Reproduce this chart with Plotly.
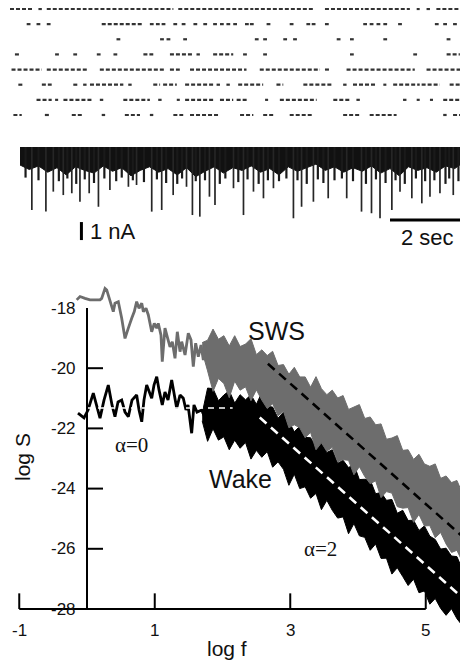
import plotly.graph_objects as go

# ---------------- raster (spike clusters, seconds) ----------------
raster_row1 = [(0.0, 0.62), (0.75, 0.84), (0.97, 2.02), (2.07, 4.31), (4.44, 6.42), (6.46, 8.04),
               (8.31, 9.32), (9.36, 10.55), (10.73, 10.81), (10.99, 11.08), (11.25, 12.0)]
raster_row2 = [(0.44, 0.54), (0.70, 0.80), (0.97, 1.07), (2.42, 3.52), (3.69, 3.79), (3.85, 3.95),
               (4.0, 4.1), (4.31, 4.41), (4.53, 4.63), (4.84, 4.94), (5.10, 5.20), (5.36, 5.46),
               (5.54, 5.64), (5.71, 5.81), (5.89, 5.99), (6.20, 6.30), (6.33, 6.43), (6.77, 6.87),
               (7.38, 7.48), (7.82, 7.92), (7.96, 8.06), (8.31, 8.41), (9.32, 9.42), (9.49, 9.59),
               (9.67, 9.77), (9.85, 9.95), (10.24, 10.34), (11.21, 11.31), (11.43, 11.53), (11.69, 11.79)]
raster_row3 = [(2.81, 2.91), (3.96, 4.06), (4.13, 4.23), (4.57, 4.67), (6.46, 6.56), (6.68, 6.78),
               (7.21, 7.31), (7.47, 7.57), (8.62, 8.72), (8.97, 9.07), (9.85, 9.95), (11.52, 11.62)]
raster_row4 = [(0.13, 0.26), (1.19, 1.29), (1.67, 1.77), (2.29, 2.39), (2.73, 2.83), (3.52, 3.78),
               (4.22, 4.84), (4.92, 5.01), (5.36, 5.89), (6.15, 6.25), (6.68, 6.78), (8.97, 9.07),
               (10.64, 10.74), (11.52, 11.87)]
raster_row5 = [(0.04, 0.84), (0.97, 2.07), (2.37, 4.09), (4.22, 4.48), (4.75, 6.24), (6.59, 8.18),
               (8.31, 8.44), (8.88, 10.68), (10.99, 12.0)]
raster_row6 = [(0.22, 0.35), (0.84, 1.10), (1.67, 1.80), (1.93, 2.02), (2.11, 2.99), (3.12, 3.21),
               (3.78, 3.96), (4.04, 4.40), (4.62, 5.36), (5.45, 5.54), (5.71, 5.80), (6.02, 6.68),
               (7.03, 7.21), (7.74, 8.53), (8.79, 8.88), (9.05, 9.67), (9.85, 9.93), (10.11, 10.81),
               (10.86, 11.34), (11.60, 12.0)]
raster_row7 = [(0.70, 1.10), (1.19, 1.27), (1.41, 2.20), (2.37, 2.46), (2.99, 3.69), (3.91, 4.0),
               (4.40, 4.48), (4.62, 5.36), (5.54, 5.89), (5.98, 6.29), (6.73, 6.81), (7.12, 8.09),
               (8.53, 8.97), (9.14, 9.23), (10.37, 10.46), (10.73, 10.81), (11.08, 11.16), (11.43, 12.0)]
raster_row8 = [(0.09, 0.31), (0.92, 1.05), (1.63, 1.93), (2.42, 2.51), (3.03, 3.43), (3.69, 3.78),
               (4.31, 4.57), (4.75, 5.54), (6.07, 6.42), (6.68, 6.95), (7.38, 8.0), (8.79, 9.23),
               (9.49, 10.20), (11.43, 11.52), (11.69, 12.0)]
raster_rows = [raster_row1, raster_row2, raster_row3, raster_row4,
               raster_row5, raster_row6, raster_row7, raster_row8]

# ---------------- membrane current trace (s, nA) ----------------
band_t = [0.0, 0.25, 0.5, 0.75, 1.0, 1.25, 1.5, 1.75, 2.0, 2.25, 2.5, 2.75, 3.0, 3.25, 3.5, 3.75,
          4.0, 4.25, 4.5, 4.75, 5.0, 5.25, 5.5, 5.75, 6.0, 6.25, 6.5, 6.75, 7.0, 7.25, 7.5, 7.75,
          8.0, 8.25, 8.5, 8.75, 9.0, 9.25, 9.5, 9.75, 10.0, 10.25, 10.5, 10.75, 11.0, 11.25, 11.5,
          11.75, 11.95]
band_i = [-1.0, -1.25, -1.05, -1.4, -1.15, -1.55, -1.1, -1.3, -1.45, -1.05, -1.35, -1.15, -1.6,
          -1.3, -1.1, -1.4, -1.2, -1.55, -1.15, -1.65, -1.35, -1.1, -1.45, -1.15, -1.3, -1.05,
          -1.4, -1.2, -1.55, -1.1, -1.35, -1.15, -0.95, -1.3, -1.1, -1.4, -1.15, -1.35, -1.05,
          -1.45, -1.2, -1.6, -1.1, -1.3, -1.15, -1.4, -1.05, -1.2, -0.9]
mid_t = [0.15, 0.5, 1.05, 1.28, 1.52, 1.75, 2.0, 2.28, 2.6, 2.75, 3.05, 3.35, 3.7, 3.95, 4.25,
         4.38, 4.75, 5.0, 5.4, 5.55, 5.9, 6.15, 6.45, 6.7, 7.0, 7.2, 7.5, 7.75, 8.05, 8.2, 8.5,
         8.7, 9.0, 9.35, 9.62, 9.88, 10.15, 10.4, 10.7, 10.95, 11.2, 11.5, 11.6, 11.85]
mid_i = [-1.7, -1.85, -1.9, -1.75, -2.05, -1.8, -2.0, -1.75, -1.9, -1.7, -1.85, -1.95, -1.8, -2.0,
         -2.05, -1.75, -1.9, -1.85, -2.05, -1.75, -1.95, -1.8, -2.05, -1.85, -1.9, -1.75, -1.85,
         -2.05, -1.8, -2.0, -1.85, -1.75, -1.9, -2.05, -1.8, -2.0, -1.85, -2.05, -1.75, -1.9,
         -1.85, -2.05, -1.75, -1.9]
big_t = [0.32, 0.70, 0.90, 1.17, 1.40, 1.62, 1.87, 2.12, 2.43, 2.93, 3.15, 3.56, 3.83, 4.14, 4.50,
         4.66, 4.86, 5.12, 5.27, 5.77, 6.04, 6.31, 6.58, 6.85, 7.39, 7.61, 7.93, 8.33, 8.83, 9.23,
         9.50, 9.73, 10.05, 10.27, 10.59, 10.86, 11.08, 11.35, 11.71, 11.94]
big_i = [-3.50, -3.59, -2.48, -2.67, -2.57, -3.04, -2.57, -3.32, -2.39, -2.21, -2.11, -3.59, -3.50,
         -2.67, -2.21, -3.78, -3.87, -2.76, -3.22, -2.29, -3.78, -2.48, -2.85, -2.29, -3.96, -3.32,
         -3.04, -2.85, -2.85, -3.59, -3.68, -3.96, -3.50, -2.48, -2.85, -3.13, -2.76, -2.57, -2.67,
         -2.11]
scale_current = 1.0   # nA
scale_time = 2.0      # s

# ---------------- power spectra (log f, log S) ----------------
sws_lf_f = [-0.152, -0.103, -0.030, 0.044, 0.118, 0.192, 0.217, 0.266, 0.291, 0.314, 0.365, 0.388,
            0.413, 0.462, 0.512, 0.561, 0.610, 0.635, 0.660, 0.698, 0.733, 0.768, 0.808, 0.832,
            0.871, 0.905, 0.955, 0.993, 1.029, 1.052, 1.092, 1.111, 1.151, 1.191, 1.225, 1.259,
            1.299, 1.333, 1.373, 1.398, 1.447, 1.495, 1.535, 1.569, 1.604, 1.643, 1.683, 1.717, 1.742]
sws_lf_s = [-17.73, -17.62, -17.68, -17.73, -17.73, -17.73, -17.68, -17.35, -17.40, -17.57, -17.90,
            -18.12, -17.84, -17.79, -18.34, -19.01, -18.67, -18.46, -18.34, -18.12, -17.79, -18.01,
            -17.84, -18.12, -18.01, -18.23, -18.79, -18.51, -18.67, -18.51, -18.90, -19.78, -18.67,
            -19.01, -19.29, -19.12, -19.67, -18.79, -19.45, -19.12, -19.56, -18.84, -19.06, -19.95,
            -19.17, -19.62, -19.23, -19.73, -19.23]
wake_lf_f = [-0.133, -0.044, 0.015, 0.093, 0.192, 0.251, 0.314, 0.369, 0.413, 0.458, 0.512, 0.561,
             0.610, 0.664, 0.733, 0.768, 0.808, 0.841, 0.881, 0.915, 0.955, 0.989, 1.029, 1.063,
             1.111, 1.151, 1.196, 1.250, 1.284, 1.324, 1.373, 1.421, 1.461, 1.491, 1.545, 1.579,
             1.624, 1.693, 1.742]
wake_lf_s = [-21.49, -21.65, -21.39, -20.83, -21.66, -21.06, -20.56, -21.22, -21.61, -21.12, -21.06,
             -21.46, -21.61, -21.06, -20.89, -21.39, -21.78, -21.06, -20.56, -20.79, -21.00, -20.56,
             -20.28, -20.72, -21.22, -20.79, -21.06, -20.39, -20.89, -21.33, -20.89, -21.00, -21.39,
             -21.22, -22.16, -21.22, -21.46, -21.39, -21.65]

band_f = [1.70, 1.78, 1.86, 1.94, 2.02, 2.10, 2.18, 2.26, 2.34, 2.42, 2.50, 2.58, 2.66, 2.74, 2.82,
          2.90, 2.98, 3.06, 3.14, 3.22, 3.30, 3.38, 3.46, 3.54, 3.62, 3.70, 3.78, 3.86, 3.94, 4.02,
          4.10, 4.18, 4.26, 4.34, 4.42, 4.50, 4.58, 4.66, 4.74, 4.82, 4.90, 4.98, 5.06, 5.14, 5.22,
          5.30, 5.38, 5.46, 5.54, 5.62, 5.70]
sws_hi = [-19.15, -19.07, -18.70, -19.04, -18.92, -19.26, -18.92, -19.28, -19.20, -19.02,
          -19.55, -19.39, -19.58, -19.44, -19.91, -19.88, -20.20, -19.97, -20.29, -20.29,
          -20.63, -20.28, -20.68, -20.88, -20.73, -20.99, -20.91, -21.37, -21.29, -21.21,
          -21.67, -21.62, -21.88, -21.85, -22.36, -22.32, -22.24, -22.73, -22.71, -23.03,
          -22.86, -23.18, -23.26, -23.18, -23.66, -23.58, -23.80, -23.73, -24.15, -24.12, -24.30]
sws_lo = [-19.45, -20.09, -20.77, -20.34, -20.51, -20.98, -20.43, -20.73, -20.62, -21.08,
          -20.72, -21.06, -21.34, -21.18, -21.58, -21.43, -21.98, -21.88, -21.98, -22.31,
          -22.13, -22.71, -22.48, -22.76, -22.63, -23.11, -23.04, -23.06, -23.54, -23.27,
          -23.60, -23.84, -23.74, -24.30, -24.10, -24.15, -24.60, -24.65, -24.63, -25.12,
          -24.86, -25.24, -25.23, -25.63, -25.46, -25.84, -26.12, -26.05, -26.43, -26.46, -26.74]
wake_hi = [-21.50, -20.66, -20.68, -21.08, -20.89, -20.75, -21.16, -20.88, -21.05, -20.88,
           -21.20, -20.81, -21.27, -21.29, -21.66, -21.46, -21.78, -22.11, -21.93, -22.30,
           -22.31, -22.62, -22.44, -22.80, -22.71, -23.16, -23.06, -23.30, -23.20, -23.70,
           -23.69, -23.71, -24.17, -24.13, -24.39, -24.36, -24.82, -24.72, -25.06, -25.05,
           -25.39, -25.24, -25.58, -25.69, -26.01, -25.98, -26.24, -26.26, -26.68, -26.74, -26.91]
wake_lo = [-21.75, -22.43, -22.01, -22.39, -22.28, -22.71, -22.39, -22.66, -22.47, -23.02,
           -22.73, -22.96, -22.77, -23.29, -23.11, -23.36, -23.89, -23.52, -24.00, -23.94,
           -24.32, -24.16, -24.70, -24.39, -24.72, -24.98, -24.94, -25.50, -25.16, -25.57,
           -25.62, -26.05, -25.84, -26.32, -26.31, -26.84, -26.63, -26.92, -27.22, -27.01,
           -27.46, -27.40, -27.84, -27.65, -27.98, -28.21, -27.99, -28.32, -28.55, -28.48, -28.72]

sws_fit_f = [2.67, 5.68]
sws_fit_s = [-19.85, -25.87]
wake_fit_f = [2.55, 5.68]
wake_fit_s = [-21.64, -27.90]
flat_fit_f = [0.0, 2.15]
flat_fit_s = [-21.32, -21.32]

ytick_vals = [-18, -20, -22, -24, -26, -28]
ytick_labels = ["-18", "-20", "-22", "-24", "-26", "-28"]
xtick_vals = [-1, 1, 3, 5]
xtick_labels = ["-1", "1", "3", "5"]

GRAY = "#6d6d6d"
SANS = "Liberation Sans, Arial, sans-serif"
SERIF = "Liberation Serif, Times New Roman, serif"

fig = go.Figure()

# raster
for i, row in enumerate(raster_rows, start=1):
    xs, ys = [], []
    for a, b in row:
        xs += [a, b, None]
        ys += [i, i, None]
    fig.add_trace(go.Scatter(x=xs, y=ys, xaxis="x3", yaxis="y3", mode="lines",
                             line=dict(color="#333333", width=2.2, dash="4px,2px"),
                             hoverinfo="skip", showlegend=False))

# current trace: dense band + individual events
fig.add_trace(go.Scatter(x=band_t, y=band_i, xaxis="x2", yaxis="y2", mode="lines",
                         fill="tozeroy", fillcolor="#111111",
                         line=dict(color="#111111", width=1), hoverinfo="skip", showlegend=False))
mx, my = [], []
for t, v in zip(mid_t, mid_i):
    mx += [t, t, None]
    my += [0, v, None]
fig.add_trace(go.Scatter(x=mx, y=my, xaxis="x2", yaxis="y2", mode="lines",
                         line=dict(color="#1a1a1a", width=2.2), hoverinfo="skip", showlegend=False))
bx, by = [], []
for t, v in zip(big_t, big_i):
    bx += [t, t, None]
    by += [0, v, None]
fig.add_trace(go.Scatter(x=bx, y=by, xaxis="x2", yaxis="y2", mode="lines",
                         line=dict(color="#262626", width=1.7), hoverinfo="skip", showlegend=False))

# spectra: wake (black) then SWS (gray)
fig.add_trace(go.Scatter(x=band_f + band_f[::-1], y=wake_hi + wake_lo[::-1], mode="lines",
                         fill="toself", fillcolor="black", line=dict(color="black", width=1),
                         hoverinfo="skip", showlegend=False))
fig.add_trace(go.Scatter(x=wake_lf_f, y=wake_lf_s, mode="lines",
                         line=dict(color="black", width=2.8), hoverinfo="skip", showlegend=False))
fig.add_trace(go.Scatter(x=band_f + band_f[::-1], y=sws_hi + sws_lo[::-1], mode="lines",
                         fill="toself", fillcolor=GRAY, line=dict(color=GRAY, width=1),
                         hoverinfo="skip", showlegend=False))
fig.add_trace(go.Scatter(x=sws_lf_f, y=sws_lf_s, mode="lines",
                         line=dict(color=GRAY, width=2.8), hoverinfo="skip", showlegend=False))

# fitted slopes
fig.add_trace(go.Scatter(x=sws_fit_f, y=sws_fit_s, mode="lines",
                         line=dict(color="black", width=2.6, dash="9px,6px"),
                         hoverinfo="skip", showlegend=False))
fig.add_trace(go.Scatter(x=wake_fit_f, y=wake_fit_s, mode="lines",
                         line=dict(color="white", width=2.6, dash="9px,6px"),
                         hoverinfo="skip", showlegend=False))
fig.add_trace(go.Scatter(x=flat_fit_f, y=flat_fit_s, mode="lines",
                         line=dict(color="white", width=1.6, dash="6px,5px"),
                         hoverinfo="skip", showlegend=False))

shapes = []
# spectrum axes
shapes.append(dict(type="line", xref="x", yref="y", x0=0, x1=0, y0=-18, y1=-28,
                   line=dict(color="black", width=2)))
shapes.append(dict(type="line", xref="x", yref="y", x0=-1, x1=5, y0=-28, y1=-28,
                   line=dict(color="black", width=2)))
for v in ytick_vals[1:-1]:
    shapes.append(dict(type="line", xref="x", yref="y", x0=0, x1=0.236, y0=v, y1=v,
                       line=dict(color="black", width=2)))
for v in xtick_vals:
    shapes.append(dict(type="line", xref="x", yref="y", x0=v, x1=v, y0=-28, y1=-27.48,
                       line=dict(color="black", width=2)))
# scale bars
shapes.append(dict(type="line", xref="x2", yref="y2", x0=1.66, x1=1.66,
                   y0=-4.17, y1=-4.17 - scale_current, line=dict(color="black", width=3)))
shapes.append(dict(type="line", xref="x2", yref="y2", x0=12.0 - scale_time, x1=12.0,
                   y0=-4.06, y1=-4.06, line=dict(color="black", width=3)))

annotations = []
for v, lab in zip(ytick_vals, ytick_labels):
    annotations.append(dict(x=-0.14, y=v, xref="x", yref="y", text=lab, showarrow=False,
                            xanchor="right", yanchor="middle",
                            font=dict(family=SANS, size=17, color="#111111")))
for v, lab in zip(xtick_vals, xtick_labels):
    annotations.append(dict(x=v, y=-28.70, xref="x", yref="y", text=lab, showarrow=False,
                            xanchor="center", yanchor="middle",
                            font=dict(family=SANS, size=17, color="#111111")))
annotations += [
    dict(x=-0.945, y=-22.95, xref="x", yref="y", text="log S", textangle=-90, showarrow=False,
         font=dict(family=SANS, size=21, color="#111111")),
    dict(x=2.07, y=-29.30, xref="x", yref="y", text="log f", showarrow=False,
         font=dict(family=SANS, size=21, color="#111111")),
    dict(x=2.79, y=-18.76, xref="x", yref="y", text="SWS", showarrow=False,
         font=dict(family=SANS, size=25, color="#111111")),
    dict(x=2.26, y=-23.68, xref="x", yref="y", text="Wake", showarrow=False,
         font=dict(family=SANS, size=25, color="#111111")),
    dict(x=0.65, y=-22.55, xref="x", yref="y", text="α=0", showarrow=False,
         font=dict(family=SERIF, size=21, color="#111111")),
    dict(x=3.44, y=-26.0, xref="x", yref="y", text="α=2", showarrow=False,
         font=dict(family=SERIF, size=21, color="#111111")),
    dict(x=1.84, y=-4.67, xref="x2", yref="y2", text="1 nA", showarrow=False,
         xanchor="left", yanchor="middle", font=dict(family=SANS, size=22, color="#111111")),
    dict(x=11.0, y=-5.0, xref="x2", yref="y2", text="2 sec", showarrow=False,
         xanchor="center", yanchor="middle", font=dict(family=SANS, size=22, color="#111111")),
]

# the page body adds an 8px margin, so the figure is 460x659 and its axes are offset to match
fig.update_layout(
    width=460, height=659, margin=dict(l=0, r=0, t=0, b=0),
    paper_bgcolor="white", plot_bgcolor="white", showlegend=False, hovermode=False,
    xaxis=dict(domain=[0, 1], range=[-1.1661, 5.6236], visible=False),
    yaxis=dict(domain=[0, 1], range=[-29.927, -8.0332], visible=False),
    xaxis2=dict(domain=[0, 1], range=[-0.3243, 12.108], visible=False, overlaying="x", anchor="y2"),
    yaxis2=dict(domain=[0, 1], range=[-28.889, 7.7222], visible=False, overlaying="y", anchor="x2"),
    xaxis3=dict(domain=[0, 1], range=[-0.0528, 12.084], visible=False, overlaying="x", anchor="y3"),
    yaxis3=dict(domain=[0, 1], range=[44.46, 0.934], visible=False, overlaying="y", anchor="x3"),
    shapes=shapes, annotations=annotations,
)

fig.write_html("out.html")
